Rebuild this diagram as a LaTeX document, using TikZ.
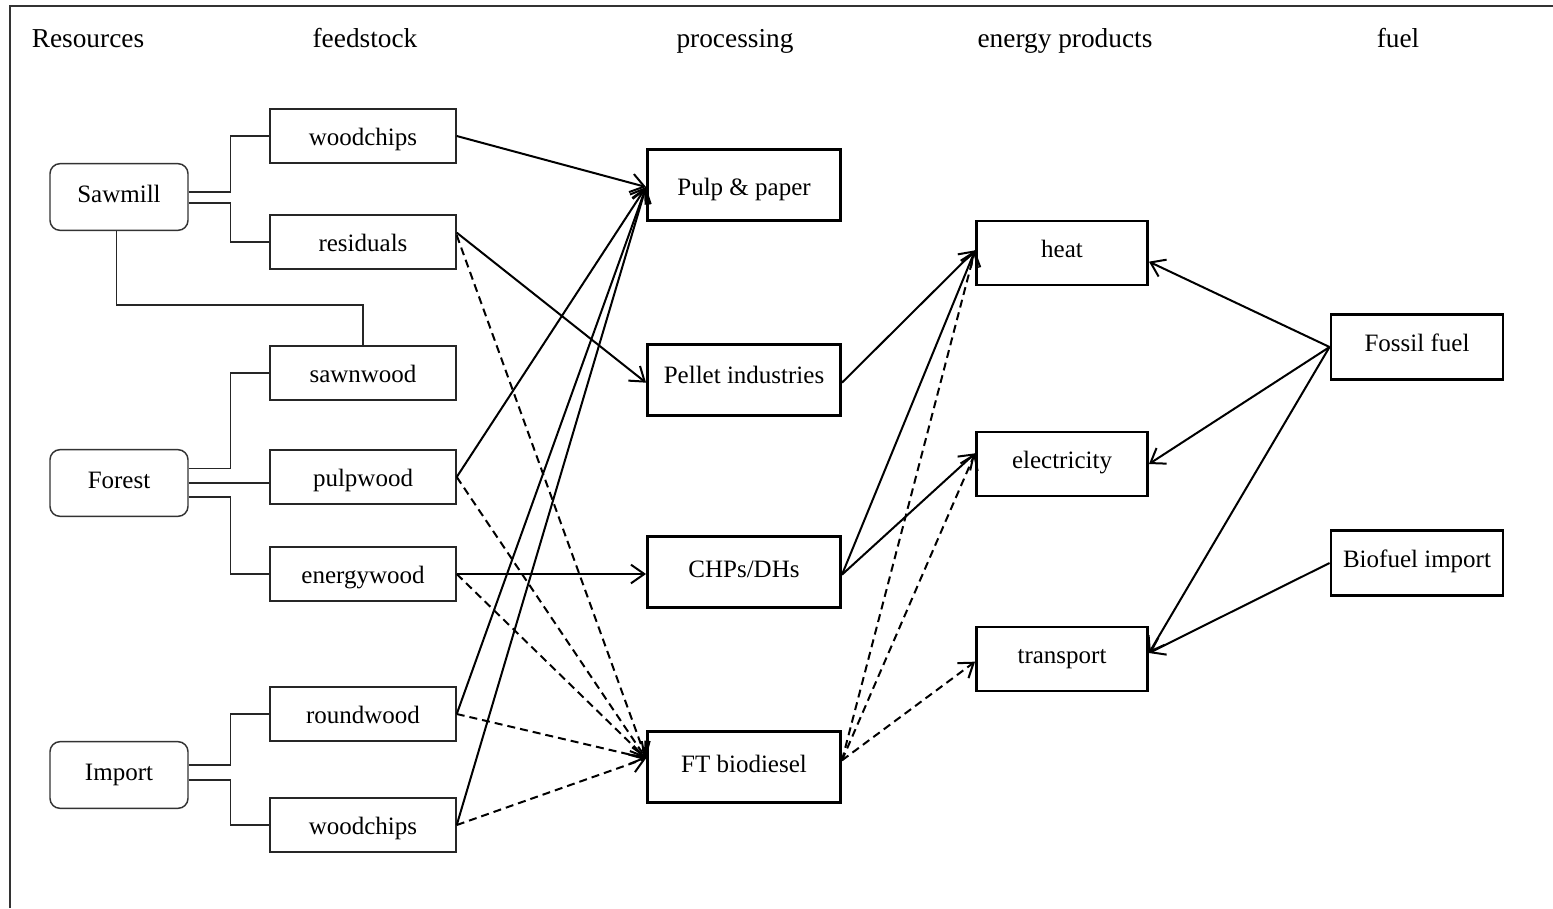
\documentclass[tikz,border=0pt]{standalone}
\usepackage{fontspec}
\setmainfont{Liberation Serif}
\usepackage{tikz}
\usetikzlibrary{arrows.meta}
\tikzset{every picture/.style={line width=0.75pt}}
\tikzset{
  hdr/.style={font=\fontsize{20.5}{24}\selectfont, inner sep=0pt, anchor=base},
  boxtext/.style={font=\fontsize{18.75}{22}\selectfont, inner sep=0pt, text height=13.5pt, text depth=0pt},
  srcbox/.style={boxtext, text height=7.5pt, draw=black!80, line width=1.1pt, rounded corners=7.5pt, minimum width=103.5pt, minimum height=50pt},
  feedbox/.style={boxtext, draw=black!85, line width=1.1pt, minimum width=139.5pt, minimum height=40.5pt},
  procbox/.style={boxtext, text height=8.5pt, draw, line width=2.2pt, minimum width=144.75pt, minimum height=53.25pt},
  prodbox/.style={boxtext, text height=7pt, draw, line width=2.2pt, minimum width=128.25pt, minimum height=48pt},
  tree/.style={draw=black!85, line width=1.1pt},
  flow/.style={line width=1.5pt, -{Straight Barb[length=10pt,width=14pt,line width=1.5pt]}},
  flowd/.style={flow, dash pattern=on 6pt off 3.75pt}
}

\begin{document}
\begin{tikzpicture}[x=0.75pt,y=0.75pt,yscale=-1,xscale=1]
\useasboundingbox (0,0) rectangle (1553,908);

%Frame
\draw [line width=1.5pt, draw=black!80] (10,908) -- (10,6) -- (1553,6) ;

% Text Node
\node [hdr] (hres) at (88,47) {Resources};
% Text Node
\node [hdr] (hfeed) at (365,47) {feedstock};
% Text Node
\node [hdr] (hproc) at (735,47) {processing};
% Text Node
\node [hdr] (hprod) at (1065,47) {energy products};
% Text Node
\node [hdr] (hfuel) at (1398,47) {fuel};

%Shape: Rounded Rect
\node [srcbox] (sawmill) at (119,197) {Sawmill};
%Shape: Rounded Rect
\node [srcbox] (forest) at (119,483) {Forest};
%Shape: Rounded Rect
\node [srcbox] (import) at (119,775) {Import};

%Shape: Rectangle
\node [feedbox] (chips1) at (363,136) {woodchips};
%Shape: Rectangle
\node [feedbox] (resid) at (363,242) {residuals};
%Shape: Rectangle
\node [feedbox] (sawn) at (363,373) {sawnwood};
%Shape: Rectangle
\node [feedbox] (pulpw) at (363,477) {pulpwood};
%Shape: Rectangle
\node [feedbox] (energyw) at (363,574) {energywood};
%Shape: Rectangle
\node [feedbox] (roundw) at (363,714) {roundwood};
%Shape: Rectangle
\node [feedbox] (chips2) at (363,825) {woodchips};

%Shape: Rectangle
\node [procbox, text height=16pt] (pulp) at (744,185) {Pulp \& paper};
%Shape: Rectangle
\node [procbox, text height=5pt] (pellet) at (744,380) {Pellet industries};
%Shape: Rectangle
\node [procbox] (chp) at (744,572) {CHPs/DHs};
%Shape: Rectangle
\node [procbox] (ft) at (744,767) {FT biodiesel};

%Shape: Rectangle
\node [prodbox] (heat) at (1062,253) {heat};
%Shape: Rectangle
\node [prodbox] (elec) at (1062,464) {electricity};
%Shape: Rectangle
\node [prodbox] (transp) at (1062,659) {transport};

%Shape: Rectangle
\node [prodbox, minimum width=129pt, minimum height=48.75pt] (fossil) at (1417,347) {Fossil fuel};
%Shape: Rectangle
\node [prodbox, minimum width=129pt, minimum height=48.75pt] (biofuel) at (1417,563) {Biofuel import};

%Tree lines
\draw [tree] ([yshift=-3.75pt]sawmill.east) -- ++(42,0) |- (chips1.west) ;
\draw [tree] ([yshift=4.5pt]sawmill.east) -- ++(42,0) |- (resid.west) ;
\draw [tree] ([xshift=-2pt]sawmill.south) -- ++(0,74) -| (sawn.north) ;
\draw [tree] ([yshift=-11pt]forest.east) -- ++(42,0) |- (sawn.west) ;
\draw [tree] (forest.east) -- (forest.east -| pulpw.west) ;
\draw [tree] ([yshift=10.5pt]forest.east) -- ++(42,0) |- (energyw.west) ;
\draw [tree] ([yshift=-7.5pt]import.east) -- ++(42,0) |- (roundw.west) ;
\draw [tree] ([yshift=3.75pt]import.east) -- ++(42,0) |- (chips2.west) ;

%Feedstock to processing
\draw [flow] (chips1.east) -- ([yshift=1.5pt]pulp.west) ;
\draw [flow] ([yshift=-7pt]resid.east) -- ([yshift=2pt]pellet.west) ;
\draw [flow] (pulpw.east) -- ([yshift=1.5pt]pulp.west) ;
\draw [flow] (energyw.east) -- (energyw.east -| chp.west) ;
\draw [flow] (roundw.east) -- ([yshift=1.5pt]pulp.west) ;
\draw [flow] (chips2.east) -- ([yshift=1.5pt]pulp.west) ;
\draw [flowd] ([yshift=-5pt]resid.east) -- ([yshift=-6.5pt]ft.west) ;
\draw [flowd] (pulpw.east) -- ([yshift=-6.5pt]ft.west) ;
\draw [flowd] (energyw.east) -- ([yshift=-6.5pt]ft.west) ;
\draw [flowd] (roundw.east) -- ([yshift=-6.5pt]ft.west) ;
\draw [flowd] (chips2.east) -- ([yshift=-6.5pt]ft.west) ;

%Processing to energy products
\draw [flow] ([yshift=2pt]pellet.east) -- ([yshift=-2pt]heat.west) ;
\draw [flow] ([yshift=2pt]chp.east) -- ([yshift=-2pt]heat.west) ;
\draw [flow] ([yshift=2pt]chp.east) -- ([yshift=-8pt]elec.west) ;
\draw [flowd] ([yshift=-5pt]ft.east) -- ([yshift=-2pt]heat.west) ;
\draw [flowd] ([yshift=-5pt]ft.east) -- ([yshift=-8pt]elec.west) ;
\draw [flowd] ([yshift=-5pt]ft.east) -- ([yshift=2pt]transp.west) ;

%Fuel to energy products
\draw [flow] (fossil.west) -- ([yshift=6.5pt]heat.east) ;
\draw [flow] (fossil.west) -- (elec.east) ;
\draw [flow] (fossil.west) -- ([yshift=-4.5pt]transp.east) ;
\draw [flow] (biofuel.west) -- ([yshift=-4.5pt]transp.east) ;

\end{tikzpicture}
\end{document}
